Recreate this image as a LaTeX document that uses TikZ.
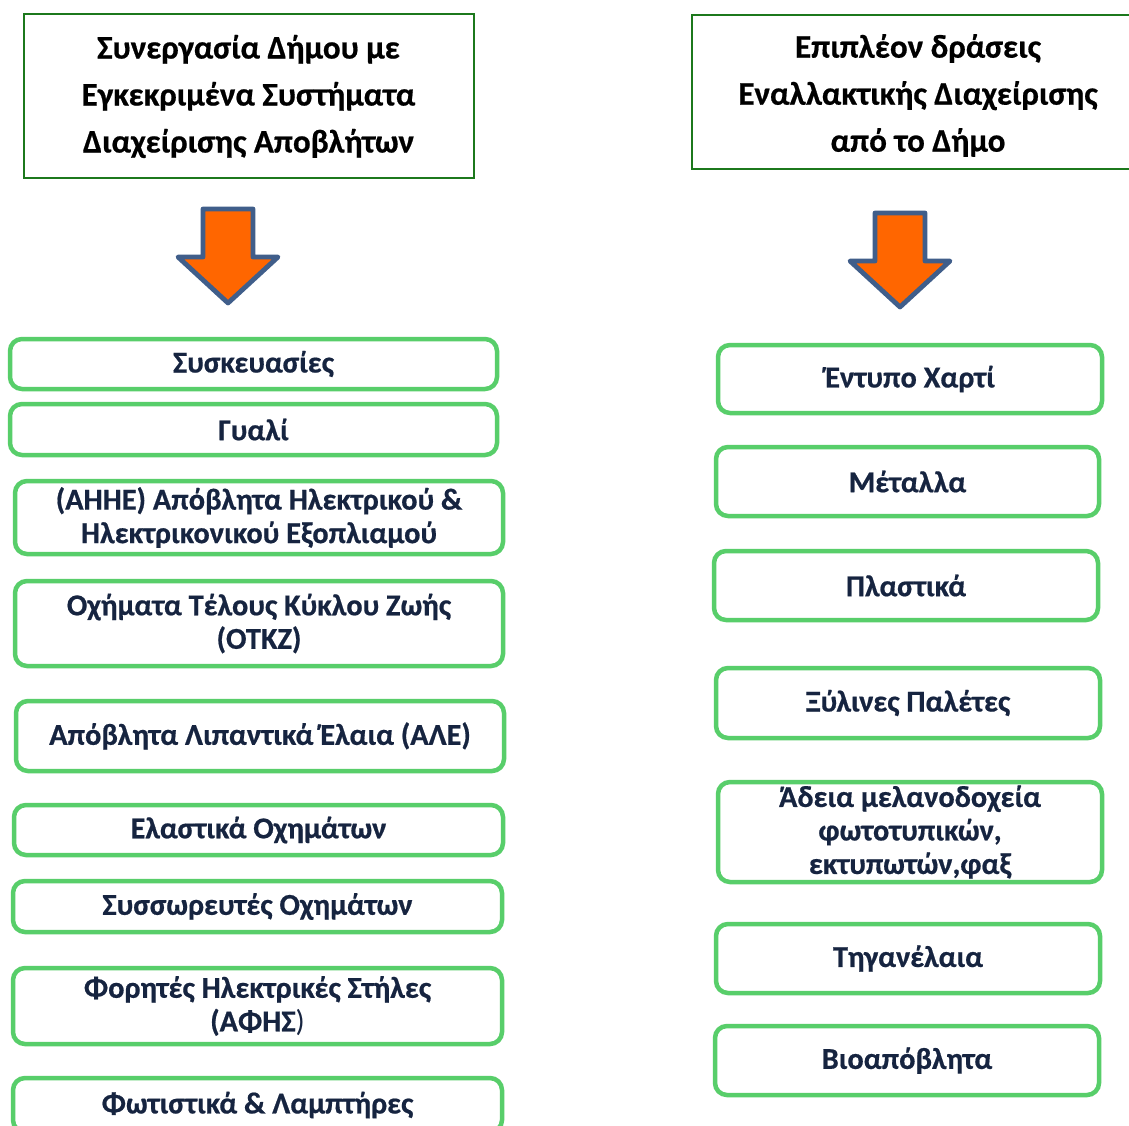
\documentclass[tikz,border=0pt]{standalone}
\usepackage{fontspec}
\setmainfont{Carlito}[BoldFont={Carlito Bold}, BoldFeatures={FakeBold=0.6}]
\definecolor{boxgreen}{RGB}{88,206,106}
\definecolor{hdrgreen}{RGB}{28,120,28}
\definecolor{navytext}{RGB}{22,36,64}
\definecolor{arrowedge}{RGB}{64,94,138}
\definecolor{arrowfill}{RGB}{255,102,0}
\tikzset{
  gbox/.style={draw=boxgreen, line width=4.5pt, rounded corners=12pt, fill=white,
    inner sep=0pt, align=center, text=navytext,
    font=\fontsize{30.3}{33.5}\selectfont\bfseries},
  hbox/.style={draw=hdrgreen, line width=2pt, inner sep=0pt, align=center, text=black,
    font=\fontsize{33}{47}\selectfont\bfseries},
  htext/.style={inner sep=0pt, align=center, text=black,
    font=\fontsize{33}{47}\selectfont\bfseries},
  blockarrow/.pic={
    \draw[draw=arrowedge, fill=arrowfill, line width=4.8pt, line join=round]
      (-25,0) -- (25,0) -- (25,48) -- (50,48) -- (0,94) -- (-50,48) -- (-25,48) -- cycle;
  }
}
\begin{document}
\begin{tikzpicture}[x=1pt,y=-1pt]
\useasboundingbox (0,0) rectangle (1129,1126);
\fill[white] (0,0) rectangle (1129,1126);
\clip (0,0) rectangle (1129,1126);

% headers
\node[hbox, minimum width=450pt, minimum height=164pt] (hl) at (248.5,96.5)
  {Συνεργασία Δήμου με\\Εγκεκριμένα Συστήματα\\Διαχείρισης Αποβλήτων};
\node[hbox, minimum width=452pt, minimum height=154pt] (hr) at (918,92.5) {};
\node[htext] (hrt) at (918,95.5)
  {Επιπλέον δράσεις\\Εναλλακτικής Διαχείρισης\\από το Δήμο};

% arrows
\pic at (228,209) {blockarrow};
\pic at (900,213) {blockarrow};

% left column
\node[gbox, minimum width=487pt, minimum height=50pt] (l1) at (253.5,364) {Συσκευασίες};
\node[gbox, minimum width=487pt, minimum height=51pt] (l2) at (253.5,429.5) {Γυαλί};
\node[gbox, minimum width=488pt, minimum height=73pt] (l3) at (259,517.5)
  {(ΑΗΗΕ) Απόβλητα Ηλεκτρικού \&\\Ηλεκτρικονικού Εξοπλιαμού};
\node[gbox, minimum width=488pt, minimum height=85pt] (l4) at (259,623.5)
  {Οχήματα Τέλους Κύκλου Ζωής\\(ΟΤΚΖ)};
\node[gbox, minimum width=488pt, minimum height=70pt] (l5) at (260,736)
  {Απόβλητα Λιπαντικά Έλαια (ΑΛΕ)};
\node[gbox, minimum width=489pt, minimum height=50pt] (l6) at (258.5,830) {Ελαστικά Οχημάτων};
\node[gbox, minimum width=489pt, minimum height=51pt] (l7) at (257.5,906.5) {Συσσωρευτές Οχημάτων};
\node[gbox, minimum width=489pt, minimum height=76pt] (l8) at (257.5,1006)
  {Φορητές Ηλεκτρικές Στήλες\\(ΑΦΗΣ{\mdseries )}};
\node[gbox, minimum width=489pt, minimum height=54pt] (l9) at (257.5,1105) {Φωτιστικά \& Λαμπτήρες};

% right column
\node[gbox, minimum width=384pt, minimum height=68pt] (r1) at (910,379) {Έντυπο Χαρτί};
\node[gbox, minimum width=383pt, minimum height=69pt] (r2) at (907.5,481.5) {Μέταλλα};
\node[gbox, minimum width=384pt, minimum height=69pt] (r3) at (906,585.5) {Πλαστικά};
\node[gbox, minimum width=384pt, minimum height=70pt] (r4) at (908,703) {Ξύλινες Παλέτες};
\node[gbox, minimum width=384pt, minimum height=100pt] (r5) at (910,832)
  {Άδεια μελανοδοχεία\\φωτοτυπικών,\\εκτυπωτών,φαξ};
\node[gbox, minimum width=384pt, minimum height=69pt] (r6) at (908,958.5) {Τηγανέλαια};
\node[gbox, minimum width=384pt, minimum height=69pt] (r7) at (907,1060.5) {Βιοαπόβλητα};
\end{tikzpicture}
\end{document}
